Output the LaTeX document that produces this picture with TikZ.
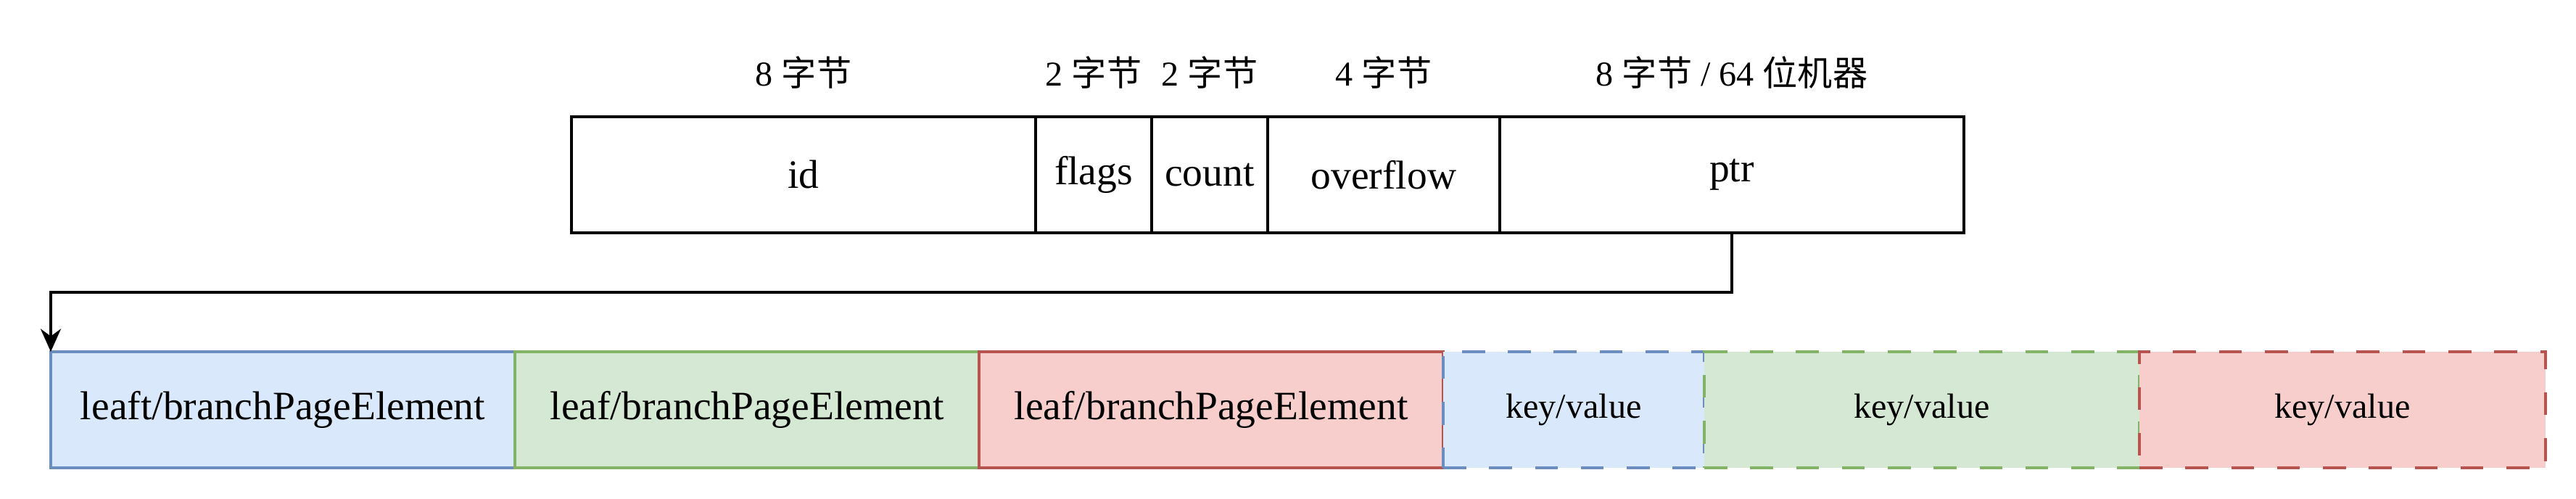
\documentclass[tikz,border=0pt]{standalone}
\usepackage{fontspec}
\setmainfont{Liberation Serif}
\newfontfamily\cjk{Noto Sans CJK SC}
\usepackage{xcolor}
\usepackage{tikz}
\usetikzlibrary{arrows.meta,positioning,calc}

\definecolor{blueFill}{HTML}{DAE8FC}
\definecolor{blueLine}{HTML}{6C8EBF}
\definecolor{greenFill}{HTML}{D5E8D4}
\definecolor{greenLine}{HTML}{82B366}
\definecolor{redFill}{HTML}{F8CECC}
\definecolor{redLine}{HTML}{B85450}

\newcommand{\zh}[1]{{\cjk #1}}

\begin{document}
\begin{tikzpicture}[
  field/.style={draw, line width=1pt, minimum height=1.6cm, inner sep=0pt, outer sep=0pt, font=\fontsize{15.8}{19}\selectfont},
  size/.style={inner sep=0pt, font=\fontsize{13.7}{16}\selectfont},
  elem/.style={draw=#1Line, fill=#1Fill, line width=1pt, minimum width=6.4cm, minimum height=1.6cm, inner sep=0pt, outer sep=0pt, font=\fontsize{15.8}{19}\selectfont},
  kv/.style={elem=#1, dash pattern=on 9pt off 9pt, font=\fontsize{13.7}{16}\selectfont},
  >={Stealth[length=9pt, width=8pt]}
]
\useasboundingbox (0,0) rectangle (35.52,-6.88);

% page header
\node [field, minimum width=6.4cm] (id) at (11.08,-2.41) {id};
\node [field, minimum width=1.6cm, right=0pt of id] (flags) {flags};
\node [field, minimum width=1.6cm, right=0pt of flags] (count) {count};
\node [field, minimum width=3.2cm, right=0pt of count] (overflow) {overflow};
\node [field, minimum width=6.4cm, right=0pt of overflow] (ptr) {ptr};

\coordinate (lblrow) at (0,-1.0);
\node [size] (lid) at (id |- lblrow) {8 \zh{字节}};
\node [size] (lflags) at (flags |- lblrow) {2 \zh{字节}};
\node [size] (lcount) at (count |- lblrow) {2 \zh{字节}};
\node [size] (loverflow) at (overflow |- lblrow) {4 \zh{字节}};
\node [size] (lptr) at (ptr |- lblrow) {8 \zh{字节} / 64 \zh{位机器}};

% elements and data
\node [elem=blue] (e1) at (3.90,-5.65) {leaft/branchPageElement};
\node [elem=green, right=0pt of e1] (e2) {leaf/branchPageElement};
\node [elem=red, right=0pt of e2] (e3) {leaf/branchPageElement};
\node [kv=blue, minimum width=3.6cm, right=0pt of e3] (kv1) {key/value};
\node [kv=green, minimum width=6.0cm, right=0pt of kv1] (kv2) {key/value};
\node [kv=red, minimum width=5.6cm, right=0pt of kv2] (kv3) {key/value};

\coordinate (turn) at (0,-4.03);
\draw [->, line width=1pt] (ptr.south) -- (ptr.south |- turn) -| (e1.north west);
\end{tikzpicture}
\end{document}
